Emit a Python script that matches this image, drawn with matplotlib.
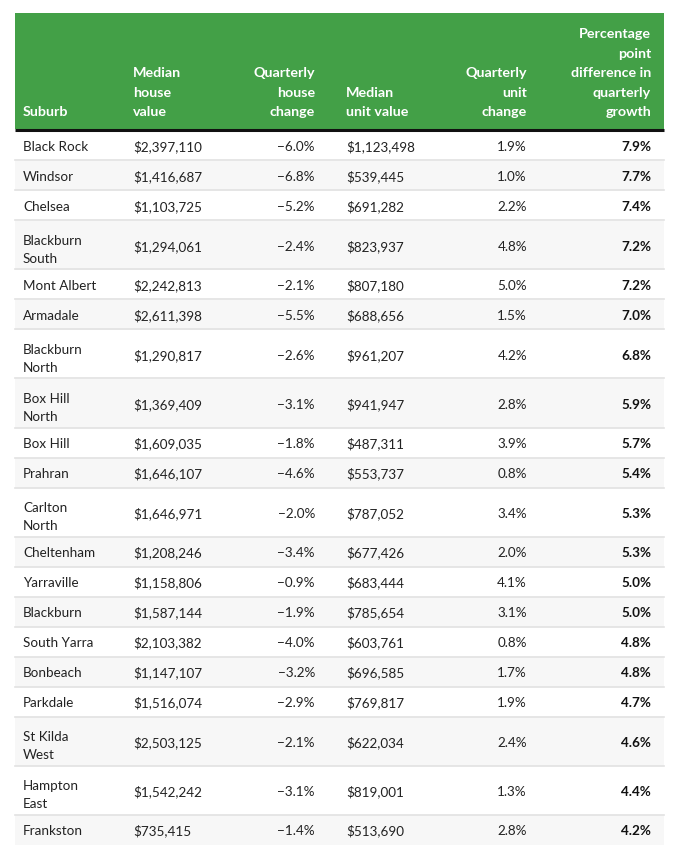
import textwrap
import matplotlib
matplotlib.use("Agg")
import matplotlib.pyplot as plt
from matplotlib.patches import Rectangle

suburbs = ["Black Rock", "Windsor", "Chelsea", "Blackburn South", "Mont Albert",
           "Armadale", "Blackburn North", "Box Hill North", "Box Hill", "Prahran",
           "Carlton North", "Cheltenham", "Yarraville", "Blackburn", "South Yarra",
           "Bonbeach", "Parkdale", "St Kilda West", "Hampton East", "Frankston"]
house_value = ["$2,397,110", "$1,416,687", "$1,103,725", "$1,294,061", "$2,242,813",
               "$2,611,398", "$1,290,817", "$1,369,409", "$1,609,035", "$1,646,107",
               "$1,646,971", "$1,208,246", "$1,158,806", "$1,587,144", "$2,103,382",
               "$1,147,107", "$1,516,074", "$2,503,125", "$1,542,242", "$735,415"]
house_change = ["−6.0%", "−6.8%", "−5.2%", "−2.4%", "−2.1%", "−5.5%", "−2.6%", "−3.1%",
                "−1.8%", "−4.6%", "−2.0%", "−3.4%", "−0.9%", "−1.9%", "−4.0%", "−3.2%",
                "−2.9%", "−2.1%", "−3.1%", "−1.4%"]
unit_value = ["$1,123,498", "$539,445", "$691,282", "$823,937", "$807,180", "$688,656",
              "$961,207", "$941,947", "$487,311", "$553,737", "$787,052", "$677,426",
              "$683,444", "$785,654", "$603,761", "$696,585", "$769,817", "$622,034",
              "$819,001", "$513,690"]
unit_change = ["1.9%", "1.0%", "2.2%", "4.8%", "5.0%", "1.5%", "4.2%", "2.8%", "3.9%",
               "0.8%", "3.4%", "2.0%", "4.1%", "3.1%", "0.8%", "1.7%", "1.9%", "2.4%",
               "1.3%", "2.8%"]
pp_diff = ["7.9%", "7.7%", "7.4%", "7.2%", "7.2%", "7.0%", "6.8%", "5.9%", "5.7%", "5.4%",
           "5.3%", "5.3%", "5.0%", "5.0%", "4.8%", "4.8%", "4.7%", "4.6%", "4.4%", "4.2%"]
headers = ["Suburb", "Median\nhouse\nvalue", "Quarterly\nhouse\nchange",
           "Median\nunit value", "Quarterly\nunit\nchange",
           "Percentage\npoint\ndifference in\nquarterly\ngrowth"]

W, H = 677, 863
fig = plt.figure(figsize=(W / 100, H / 100), dpi=100)
ax = fig.add_axes([0, 0, 1, 1])
ax.set_xlim(0, W)
ax.set_ylim(H, 0)
ax.axis("off")

FONT = ["Lato", "DejaVu Sans"]
px = 0.72
body_fs = 13.5 * px
head_fs = 14.2 * px

left, right = 15, 664
head_top, head_bot = 13, 129.5
green = "#43a047"

# columns: (x, alignment)
cols = [(23, "left"), (133, "left"), (315, "right"), (346, "left"), (527, "right"), (651, "right")]

ax.add_patch(Rectangle((left, head_top), right - left, head_bot - head_top,
                       facecolor=green, edgecolor="none"))
for (x, ha), h in zip(cols, headers):
    ax.text(x, 116, h, ha=ha, va="baseline", fontsize=head_fs, color="white",
            fontweight="bold", family=FONT, linespacing=1.74, multialignment=ha)
ax.plot([left, right], [130, 130], color="#111111", lw=2.2, solid_capstyle="butt")

y = 131
for i in range(len(suburbs)):
    lines = textwrap.wrap(suburbs[i], 11)
    rh = 30 if len(lines) == 1 else 49
    bg = "#f7f7f7" if i % 2 == 1 else "white"
    ax.add_patch(Rectangle((left, y), right - left, rh, facecolor=bg, edgecolor="none"))
    if i < len(suburbs) - 1:
        ax.plot([left, right], [y + rh - 0.5, y + rh - 0.5], color="#e2e2e2", lw=1.2)
    cy = y + rh / 2
    vals = ["\n".join(lines), house_value[i], house_change[i], unit_value[i],
            unit_change[i], pp_diff[i]]
    for j, ((x, ha), v) in enumerate(zip(cols, vals)):
        ax.text(x, cy, v, ha=ha, va="center_baseline", fontsize=body_fs,
                color="#222222" if j < 5 else "#111111",
                fontweight="bold" if j == 5 else "normal", family=FONT,
                linespacing=1.68)
    y += rh

fig.savefig("out.png", dpi=100, facecolor="white")
